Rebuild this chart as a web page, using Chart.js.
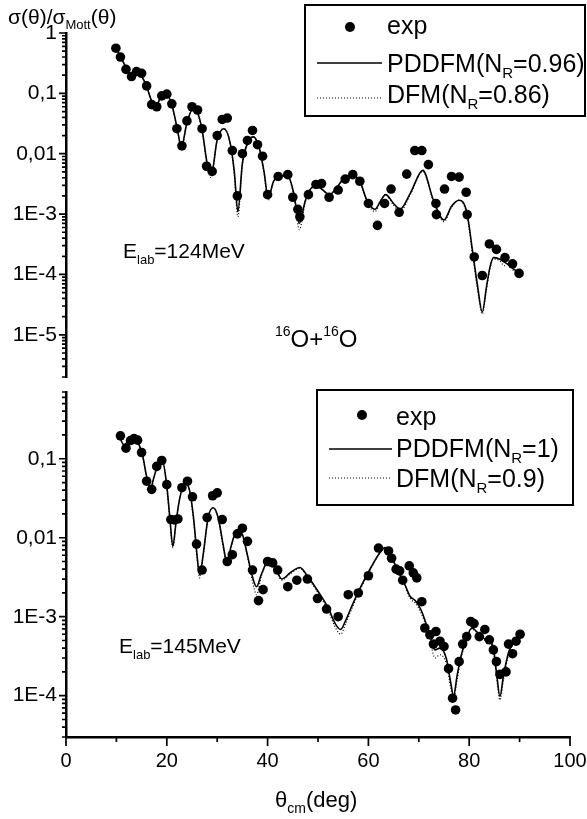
<!DOCTYPE html>
<html><head><meta charset="utf-8">
<script src="https://cdn.jsdelivr.net/npm/chart.js@4"></script>
<style>
html,body{margin:0;padding:0;background:#fff;width:587px;height:819px;overflow:hidden}
canvas{position:absolute;left:0}
#c1{top:0}#c2{top:385px}
</style></head>
<body>
<canvas id="c1" width="587" height="385"></canvas>
<canvas id="c2" width="587" height="434"></canvas>
<script>
// ---------- data: top panel (Elab = 124 MeV) ----------
const topExpTheta = [9.9,10.8,11.9,13.0,14.0,15.0,16.0,17.0,18.0,19.0,20.0,21.0,22.0,23.0,24.0,25.0,26.1,27.0,27.9,29.0,30.0,31.0,32.0,33.0,34.0,35.0,36.0,37.0,38.0,39.0,40.0,42.1,44.0,45.0,46.0,46.4,48.1,49.6,50.7,52.2,54.0,55.4,56.9,58.3,60.0,61.8,63.2,64.5,66.1,67.6,69.2,70.6,71.9,73.4,73.5,75.1,76.5,78.0,79.4,79.6,81.0,82.6,84.0,85.4,87.1,88.6,89.9];
const topExpValue = [0.56,0.40,0.25,0.19,0.23,0.215,0.133,0.065,0.060,0.091,0.097,0.067,0.026,0.0135,0.035,0.060,0.053,0.026,0.0062,0.0051,0.020,0.037,0.039,0.0113,0.0020,0.010,0.0166,0.0243,0.0141,0.0091,0.0021,0.0042,0.0045,0.0019,0.0012,0.0009,0.0021,0.0031,0.0032,0.0019,0.0025,0.0038,0.0045,0.0035,0.0015,0.00065,0.0015,0.0026,0.00107,0.0046,0.0113,0.0113,0.0066,0.0015,0.00098,0.0026,0.0042,0.0041,0.0023,0.00098,0.000195,0.000096,0.00032,0.00026,0.00019,0.00015,0.000104];
const topTheoryTheta = [10,11,12,13,14,15,16,17,17.8,18.8,20,21,22,22.9,24,25.2,26,27,28,28.8,30,31.3,32.5,33.4,34.1,35,36.2,37.2,38.4,39.3,40.1,41.2,42.5,44,45.2,46.3,47.5,49,50.4,52.3,53.5,55,56.8,58.3,59.7,61.3,62.5,63.4,65,66.3,68.3,70.8,72.9,75,76.5,78,79.5,80.8,81.6,82.6,83.4,84.1,84.8,86,87,88,89,90];
const topPddfmValue = [0.55,0.38,0.26,0.20,0.21,0.19,0.13,0.075,0.062,0.085,0.095,0.065,0.028,0.013,0.033,0.055,0.050,0.025,0.007,0.0045,0.017,0.026,0.016,0.005,0.0011,0.007,0.016,0.019,0.012,0.005,0.0019,0.0035,0.0043,0.0043,0.0022,0.0007,0.0017,0.0028,0.0027,0.0021,0.0026,0.0038,0.0043,0.0035,0.0017,0.0012,0.0017,0.0021,0.0015,0.0012,0.0022,0.0053,0.0017,0.0008,0.00135,0.0017,0.0011,0.0002,0.00007,0.000024,0.00006,0.00013,0.00019,0.00018,0.00016,0.00014,0.00012,0.00011];
const topDfmValue = [0.55,0.38,0.26,0.20,0.21,0.19,0.13,0.073,0.060,0.085,0.095,0.064,0.027,0.012,0.033,0.055,0.049,0.024,0.0065,0.004,0.017,0.026,0.016,0.0045,0.0009,0.0065,0.016,0.019,0.012,0.0048,0.0017,0.0034,0.0043,0.0042,0.002,0.00055,0.0016,0.0028,0.0027,0.0021,0.0026,0.0037,0.0043,0.0034,0.0016,0.0011,0.0017,0.0021,0.0014,0.0011,0.0021,0.0051,0.0016,0.00075,0.0013,0.0017,0.001,0.00018,0.00006,0.000022,0.000055,0.00012,0.00018,0.00017,0.00014,0.00016,0.00011,0.00012];

// ---------- data: bottom panel (Elab = 145 MeV) ----------
const botExpTheta = [10.8,11.9,12.8,13.5,14.2,15.0,16.0,17.0,18.0,19.0,20.0,20.8,21.5,22.2,23.0,24.1,25.1,25.9,27.0,28.0,29.1,30.0,31.0,32.0,33.0,34.0,35.0,36.0,37.0,38.2,39.1,40.0,41.0,42.0,44.0,45.8,47.9,49.9,51.7,54.0,56.0,58.0,60.0,62.0,64.0,64.6,65.5,66.2,66.8,68.1,68.9,69.6,70.6,71.2,72.2,72.9,73.4,74.2,75.0,75.9,76.7,77.3,78.0,78.7,79.5,80.3,80.95,82.0,83.1,84.0,84.8,85.4,86.1,87.3,87.8,88.6,89.3,90.1];
const botExpValue = [0.195,0.136,0.17,0.18,0.172,0.12,0.052,0.041,0.080,0.095,0.047,0.017,0.0168,0.0173,0.043,0.052,0.033,0.0083,0.0039,0.018,0.034,0.037,0.017,0.0050,0.0061,0.0112,0.0132,0.0090,0.0039,0.0016,0.0022,0.0050,0.0048,0.0039,0.0024,0.0029,0.0030,0.0017,0.00125,0.0010,0.0019,0.0020,0.0033,0.0074,0.0068,0.0055,0.0040,0.0038,0.0029,0.0044,0.0036,0.0031,0.00155,0.00072,0.00059,0.00045,0.00065,0.00049,0.00042,0.00022,0.000093,0.000066,0.00027,0.00045,0.00056,0.00087,0.00082,0.00056,0.00069,0.00051,0.00038,0.00027,0.000186,0.00020,0.00045,0.00034,0.00049,0.00060];
const botTheoryTheta = [10.5,11.5,12.5,13.5,14.5,15.2,16,16.8,17.5,18.3,19.2,20,20.6,21.2,21.8,22.5,23.6,24.5,25.3,26,26.5,27.2,28.2,29.2,30.2,31.2,31.9,32.8,33.9,35,36,37,37.8,38.8,40.1,41.5,42.8,44.5,46.4,48,50,52,53.5,54.5,55.5,57,58.5,60.5,62.3,63.3,64.5,66,67.3,68.3,69.3,70.5,71.6,72.5,73.2,74.2,75.5,76.3,76.9,77.6,78.4,79.2,80.5,82,83.5,84.7,85.4,86.1,86.8,87.8,89,89.9];
const botPddfmValue = [0.20,0.15,0.17,0.175,0.15,0.11,0.06,0.043,0.06,0.085,0.09,0.045,0.018,0.0078,0.015,0.03,0.05,0.04,0.018,0.006,0.0034,0.006,0.018,0.024,0.018,0.008,0.005,0.008,0.0125,0.011,0.006,0.0032,0.0024,0.0035,0.005,0.0042,0.003,0.0036,0.0042,0.0032,0.0021,0.0013,0.0008,0.00069,0.0009,0.0015,0.0024,0.0042,0.0065,0.0075,0.0058,0.0037,0.0025,0.0018,0.0016,0.0012,0.00076,0.0005,0.00038,0.0004,0.00029,0.00015,0.0001,0.00018,0.00032,0.00047,0.00072,0.0006,0.0005,0.00043,0.0002,0.000098,0.00018,0.00035,0.0005,0.00059];
const botDfmValue = [0.20,0.15,0.17,0.175,0.15,0.11,0.058,0.042,0.06,0.085,0.09,0.044,0.017,0.0075,0.015,0.03,0.05,0.04,0.017,0.0055,0.0031,0.0058,0.018,0.024,0.017,0.0075,0.0046,0.0078,0.0125,0.011,0.0058,0.0028,0.0019,0.0033,0.005,0.0041,0.0029,0.0035,0.0041,0.0031,0.002,0.0012,0.00072,0.0006,0.00082,0.0014,0.0023,0.0041,0.0064,0.0074,0.0057,0.0036,0.0024,0.0017,0.0015,0.0011,0.0007,0.00042,0.0003,0.00033,0.00025,0.00013,0.00009,0.00016,0.0003,0.00045,0.0007,0.00058,0.00048,0.0004,0.00018,0.000088,0.00016,0.00033,0.00049,0.00058];

// ---------- ticks ----------
const topTickValues = [1, 0.1, 0.01, 1e-3, 1e-4, 1e-5];
const topTickLabels = ['1', '0,1', '0,01', '1E-3', '1E-4', '1E-5'];
const botTickValues = [0.1, 0.01, 1e-3, 1e-4];
const botTickLabels = ['0,1', '0,01', '1E-3', '1E-4'];
const xTickValues = [0, 20, 40, 60, 80, 100];
const xTickLabels = ['0', '20', '40', '60', '80', '100'];
const xMinorTickValues = [10, 30, 50, 70, 90];

const FONT = '"Liberation Sans", Arial, Helvetica, sans-serif';
Chart.defaults.font.family = FONT;
Chart.defaults.color = '#000';

function pts(xs, ys) { return xs.map((x, i) => ({x, y: ys[i]})); }

function rich(ctx, x, y, parts) {
  let cx = x;
  for (const [t, s, dy] of parts) {
    ctx.font = s + 'px ' + FONT;
    ctx.fillText(t, cx, y + dy);
    cx += ctx.measureText(t).width;
  }
}

function noPad(s) { s.paddingTop = 0; s.paddingBottom = 0; s.paddingLeft = 0; s.paddingRight = 0; }

const tickPlugin = {
  id: 'axisTicks',
  afterDraw(chart, args, o) {
    const ctx = chart.ctx, ys = chart.scales.y, xs = chart.scales.x;
    const x0 = chart.chartArea.left;
    ctx.save();
    ctx.strokeStyle = '#000';
    ctx.lineWidth = 1.7;
    ctx.beginPath();
    o.yMajor.forEach(v => { const p = ys.getPixelForValue(v); ctx.moveTo(x0, p); ctx.lineTo(x0 - 7, p); });
    const e0 = Math.floor(Math.log10(ys.min)), e1 = Math.ceil(Math.log10(ys.max));
    for (let e = e0; e <= e1; e++) for (let m = 2; m <= 9; m++) {
      const v = m * Math.pow(10, e);
      if (v >= ys.min * 0.999 && v <= ys.max * 1.001) { const p = ys.getPixelForValue(v); ctx.moveTo(x0, p); ctx.lineTo(x0 - 4, p); }
    }
    if (o.xAxis) {
      const y0 = chart.chartArea.bottom;
      xTickValues.forEach(v => { const p = xs.getPixelForValue(v); ctx.moveTo(p, y0); ctx.lineTo(p, y0 + 9); });
      xMinorTickValues.forEach(v => { const p = xs.getPixelForValue(v); ctx.moveTo(p, y0); ctx.lineTo(p, y0 + 5); });
    }
    ctx.stroke();
    ctx.restore();
  }
};

const annotPlugin = {
  id: 'annot',
  afterDraw(chart, args, o) {
    const ctx = chart.ctx;
    ctx.save();
    ctx.fillStyle = '#000';
    ctx.strokeStyle = '#000';
    ctx.textBaseline = 'alphabetic';
    ctx.textAlign = 'left';
    o.draw(ctx);
    ctx.restore();
  }
};

function legend(ctx, box, dot, lineX, rows) {
  ctx.lineWidth = 2;
  ctx.strokeRect(box[0], box[1], box[2], box[3]);
  ctx.beginPath(); ctx.arc(dot[0], dot[1], 5, 0, Math.PI * 2); ctx.fill();
  rich(ctx, rows[0].tx, rows[0].ty, rows[0].parts);
  ctx.lineWidth = 1.3;
  ctx.beginPath(); ctx.moveTo(lineX[0], rows[1].ly); ctx.lineTo(lineX[1], rows[1].ly); ctx.stroke();
  rich(ctx, rows[1].tx, rows[1].ty, rows[1].parts);
  ctx.lineWidth = 1.1;
  ctx.setLineDash([1, 2]);
  ctx.beginPath(); ctx.moveTo(lineX[0], rows[2].ly); ctx.lineTo(lineX[1], rows[2].ly); ctx.stroke();
  ctx.setLineDash([]);
  rich(ctx, rows[2].tx, rows[2].ty, rows[2].parts);
}

function datasets(expX, expY, thX, pdY, dfY) {
  return [
    {label: 'exp', data: pts(expX, expY), showLine: false, pointRadius: 4.8, pointBackgroundColor: '#000', pointBorderWidth: 0, pointBorderColor: '#000'},
    {label: 'PDDFM', data: pts(thX, pdY), showLine: true, borderColor: '#000', borderWidth: 1.6, pointRadius: 0, cubicInterpolationMode: 'monotone'},
    {label: 'DFM', data: pts(thX, dfY), showLine: true, borderColor: '#000', borderWidth: 1.2, borderDash: [1, 2], pointRadius: 0, cubicInterpolationMode: 'monotone'}
  ];
}

function yScale(min, max, vals, labels) {
  return {
    type: 'logarithmic', min, max,
    afterBuildTicks: s => { s.ticks = vals.map(v => ({value: v})); },
    afterFit: s => { s.width = 66; noPad(s); },
    ticks: {autoSkip: false, padding: 9, font: {size: 21}, color: '#000',
      callback: (v, i) => labels[i]},
    grid: {display: true, drawOnChartArea: false, drawTicks: false, color: 'rgba(0,0,0,0)'},
    border: {display: true, color: '#000', width: 2.5}
  };
}

// ---------- top chart ----------
new Chart(document.getElementById('c1'), {
  type: 'scatter',
  data: {datasets: datasets(topExpTheta, topExpValue, topTheoryTheta, topPddfmValue, topDfmValue)},
  options: {
    responsive: false, animation: false, devicePixelRatio: 1,
    layout: {padding: {left: 0, right: 17, top: 33, bottom: 8}},
    plugins: {
      legend: {display: false}, tooltip: {enabled: false},
      axisTicks: {yMajor: topTickValues, xAxis: false},
      annot: {draw: ctx => {
        rich(ctx, 8, 24, [['σ(θ)/σ', 21, 0], ['Mott', 13, 5], ['(θ)', 21, 0]]);
        rich(ctx, 123, 258, [['E', 21, 0], ['lab', 13, 6], ['=124MeV', 21, 0]]);
        rich(ctx, 275, 347, [['16', 14, -11], ['O+', 24, 0], ['16', 14, -11], ['O', 24, 0]]);
        legend(ctx, [305, 5, 280, 111], [350, 27], [317, 382], [
          {tx: 387, ty: 34, parts: [['exp', 25, 0]]},
          {tx: 387, ty: 72, ly: 63, parts: [['PDDFM(N', 25, 0], ['R', 15, 6], ['=0.96)', 25, 0]]},
          {tx: 387, ty: 103, ly: 98, parts: [['DFM(N', 25, 0], ['R', 15, 6], ['=0.86)', 25, 0]]}
        ]);
      }}
    },
    scales: {
      x: {type: 'linear', min: 0, max: 100, display: false},
      y: yScale(2e-6, 1, topTickValues, topTickLabels)
    }
  },
  plugins: [tickPlugin, annotPlugin]
});

// ---------- bottom chart ----------
new Chart(document.getElementById('c2'), {
  type: 'scatter',
  data: {datasets: datasets(botExpTheta, botExpValue, botTheoryTheta, botPddfmValue, botDfmValue)},
  options: {
    responsive: false, animation: false, devicePixelRatio: 1,
    layout: {padding: {left: 0, right: 17, top: 7, bottom: 0}},
    plugins: {
      legend: {display: false}, tooltip: {enabled: false},
      axisTicks: {yMajor: botTickValues, xAxis: true},
      annot: {draw: ctx => {
        rich(ctx, 119, 268, [['E', 21, 0], ['lab', 13, 6], ['=145MeV', 21, 0]]);
        rich(ctx, 275, 422, [['θ', 22, 0], ['cm', 14, 6], ['(deg)', 22, 0]]);
        legend(ctx, [317, 5, 256, 115], [362, 30], [329, 392], [
          {tx: 396, ty: 40, parts: [['exp', 25, 0]]},
          {tx: 396, ty: 72, ly: 64, parts: [['PDDFM(N', 25, 0], ['R', 15, 6], ['=1)', 25, 0]]},
          {tx: 396, ty: 102, ly: 93, parts: [['DFM(N', 25, 0], ['R', 15, 6], ['=0.9)', 25, 0]]}
        ]);
      }}
    },
    scales: {
      x: {
        type: 'linear', min: 0, max: 100,
        afterBuildTicks: s => { s.ticks = xTickValues.map(v => ({value: v})); },
        afterFit: s => { s.height = 82; noPad(s); },
        ticks: {autoSkip: false, maxRotation: 0, padding: 12, font: {size: 20}, color: '#000',
          callback: (v, i) => xTickLabels[i]},
        grid: {display: true, drawOnChartArea: false, drawTicks: false, color: 'rgba(0,0,0,0)'},
        border: {display: true, color: '#000', width: 2.5}
      },
      y: yScale(3e-5, 0.7, botTickValues, botTickLabels)
    }
  },
  plugins: [tickPlugin, annotPlugin]
});
</script>
</body></html>
